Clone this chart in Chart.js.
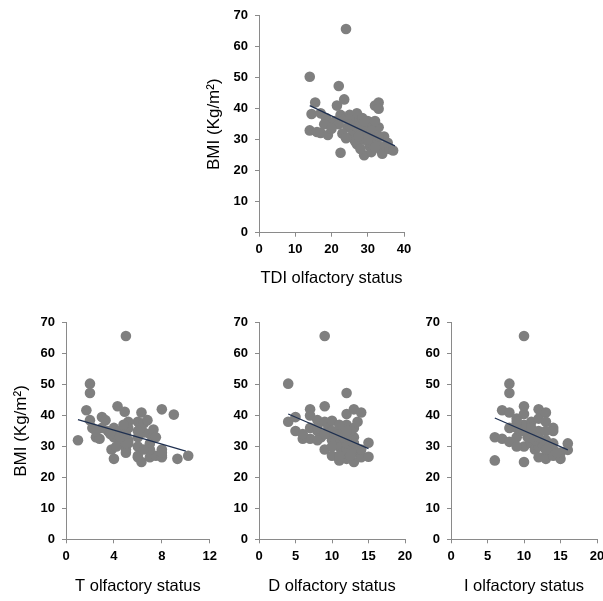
<!DOCTYPE html>
<html>
<head>
<meta charset="utf-8">
<script src="https://cdn.jsdelivr.net/npm/chart.js@4.4.1/dist/chart.umd.min.js"></script>
<style>
  html, body { margin: 0; padding: 0; background: #fff; width: 603px; height: 601px; overflow: hidden; }
  .panel { position: absolute; }
</style>
</head>
<body>
<div class="panel" style="left:150px;top:0px"><canvas id="cTDI" width="270" height="300"></canvas></div>
<div class="panel" style="left:0px;top:300px"><canvas id="cT" width="222" height="301"></canvas></div>
<div class="panel" style="left:200px;top:300px"><canvas id="cD" width="220" height="301"></canvas></div>
<div class="panel" style="left:390px;top:300px"><canvas id="cI" width="222" height="301"></canvas></div>
<script>
'use strict';

// ── data ──────────────────────────────────────────────────────────────────
const bmiTicks = [0, 10, 20, 30, 40, 50, 60, 70];

const tdiX   = [14,24,22,15.5,14.5,17,18.5,14,16,17,19,20,21,21.5,23.5,22.5,24,24.5,25,25.5,26,26,27,27,28,28,28.5,29,29,30,30,30.5,31,31,31.5,32,32.5,33,33,33,33.5,34,34.5,35,36,37,22.5,22,23,25,26.5,28,29.5,32,18,20,24,26,30,32,27,29,31,25,30,27.5,33,35.5];
const tdiBmi = [50.3,65.7,47.3,42,38.3,38.5,37,33,32.5,32.2,31.5,35,36,41,43,38,37,34,38,31,33,36,38.5,28.5,35,32,37,30,25,33,36,28,26,35,31,41,29,42,40,34,27,25.5,31,28,27,26.5,25.8,35,32,36.5,29.5,27,33.5,36,35,33.5,30.5,34.5,31.5,27.5,34,36,33,35,30,31,31,29];
const tdiFitX = [14, 37.5];
const tdiFitY = [41, 28];

const tX   = [5,2,2,1.7,1,2,2.2,2.5,2.8,3,3.3,3.5,4.3,4.9,5.2,4,4,3.8,4,4.5,5,5,5.2,5.2,6.3,6,6.5,6,6,6,6.3,6,7,7,7.3,7.5,7,7.5,8,8,8,8,9,9.3,10.2,4.5,3,6.8,5.2,4.2,2.5,4.8,6.5,7,5,3.7,6.2,8,5,6,4.5,6.5];
const tBmi = [65.7,50.3,47.3,41.7,32,38.5,36,33,32.5,39.5,38.5,35,43,41.2,38,36,33,29,26,31,29,34,36,32,41,38,37.5,33,30,26.5,25,27,34,31,35.5,33,26.5,27,42,29,27,26.5,40.3,26,27,35,36,38.5,31,30,35,37,34.5,29,28,34,36,28,31,35,33,29];
const tFitX = [1, 10];
const tFitY = [38.7, 28.5];

const dX   = [9,4,4,5,5,6,7,7,7,7,8,8,8.5,9,9,9,9.5,10,10,10.5,11,11,11,11.5,12,12,12,12,12,12.5,12,13,13,13,13,13,13.5,14,14,14,15,15,10,11,12.5,10,11,12,13,6,8,9.5,11.5,12.5,14,10,11,12,13,11,8,9];
const dBmi = [65.7,50.3,38,39.5,35,32.5,42,40,36,32.5,35,38.5,33,43,38,29,36,38.3,27,32,35,30,25.5,28,47.3,40.5,37,33,26,30,29,42,36,33,28,25,38,41,27,26.5,31.2,26.7,32,33,35,30,27,31,31,34,32,34,33,27,29,35,37,35,31,27,36,34];
const dFitX = [4, 15];
const dFitY = [40.5, 29.3];

const iX   = [10,8,8,6,6,7,7,8,8,8,9,9,10,10,10,10,10,11,11,11,11.5,12,12,12,12,12,13,13,13,13,13,14,14,14,14,15,15,16,16,9,9.5,10.5,11,12.5,13.5,14.5,9,11.5,10,11,12,13,14,13,9];
const iBmi = [65.7,50.3,47.3,25.5,33,41.7,32.5,41,36,31.5,39,33,43,40.5,37,30,25,38,34,31,29,42,39,35,30,26.5,41,38,32,27,26,36,35,29,27,26,28,31,28.9,36,35,33,35,31,30,28,30,32,35,36,33,35,31,29,38];
const iFitX = [6, 16];
const iFitY = [39.2, 28.9];

// ── styling ───────────────────────────────────────────────────────────────
const AXIS_GREY  = '#8a8a8a';
const DOT_GREY   = '#7f7f7f';
const FIT_NAVY   = '#1f3050';
const FONT       = "'Liberation Sans', Arial, sans-serif";

Chart.defaults.font.family = FONT;
Chart.defaults.color = '#000';

function pairs(xs, ys) {
  return xs.map((x, i) => ({ x, y: ys[i] }));
}

function panel(id, o) {
  new Chart(document.getElementById(id).getContext('2d'), {
    type: 'scatter',
    data: {
      datasets: [
        { type: 'line', data: pairs(o.fitX, o.fitY), borderColor: FIT_NAVY, borderWidth: 1.2,
          pointRadius: 0, fill: false, order: 0 },
        { data: pairs(o.xs, o.ys), backgroundColor: DOT_GREY, borderWidth: 0,
          pointRadius: 5.3, pointHoverRadius: 5.3, order: 1 },
      ],
    },
    options: {
      responsive: false, animation: false, events: [],
      layout: { padding: o.pad },
      plugins: { legend: { display: false }, tooltip: { enabled: false } },
      scales: {
        x: {
          type: 'linear', min: 0, max: o.xMax,
          afterBuildTicks: s => { s.ticks = o.xTicks.map(v => ({ value: v })); },
          afterFit: s => { s.height = o.xH; },
          grid: { drawOnChartArea: false, drawTicks: true, tickLength: 4, color: AXIS_GREY },
          border: { display: true, color: AXIS_GREY, width: 1 },
          ticks: { padding: 5, font: { size: 13, weight: 'bold' }, color: '#000', maxRotation: 0 },
          title: { display: true, text: o.xTitle, font: { size: 16.5 }, color: '#000', padding: 0 },
        },
        y: {
          type: 'linear', min: 0, max: 70,
          afterBuildTicks: s => { s.ticks = bmiTicks.map(v => ({ value: v })); },
          afterFit: s => { s.width = 55; },
          grid: { drawOnChartArea: false, drawTicks: true, tickLength: 4, color: AXIS_GREY },
          border: { display: true, color: AXIS_GREY, width: 1 },
          ticks: { padding: 7, font: { size: 13, weight: 'bold' }, color: '#000' },
          title: { display: !!o.yTitle, text: o.yTitle, font: { size: 17 }, color: '#000', padding: 0 },
        },
      },
    },
  });
}

panel('cTDI', { xs: tdiX, ys: tdiBmi, fitX: tdiFitX, fitY: tdiFitY, xMax: 40, xTicks: [0, 10, 20, 30, 40],
  xTitle: 'TDI olfactory status', yTitle: 'BMI (Kg/m²)', xH: 55.5,
  pad: { left: 54, right: 16, top: 15.7, bottom: 11.8 } });

panel('cT', { xs: tX, ys: tBmi, fitX: tFitX, fitY: tFitY, xMax: 12, xTicks: [0, 4, 8, 12],
  xTitle: 'T olfactory status', yTitle: 'BMI (Kg/m²)', xH: 57.3,
  pad: { left: 11, right: 11, top: 22.7, bottom: 4.4 } });

panel('cD', { xs: dX, ys: dBmi, fitX: dFitX, fitY: dFitY, xMax: 20, xTicks: [0, 5, 10, 15, 20],
  xTitle: 'D olfactory status', yTitle: '', xH: 57.3,
  pad: { left: 4, right: 15, top: 22.7, bottom: 4.4 } });

panel('cI', { xs: iX, ys: iBmi, fitX: iFitX, fitY: iFitY, xMax: 20, xTicks: [0, 5, 10, 15, 20],
  xTitle: 'I olfactory status', yTitle: '', xH: 57.3,
  pad: { left: 6, right: 15, top: 22.7, bottom: 4.4 } });
</script>
</body>
</html>
